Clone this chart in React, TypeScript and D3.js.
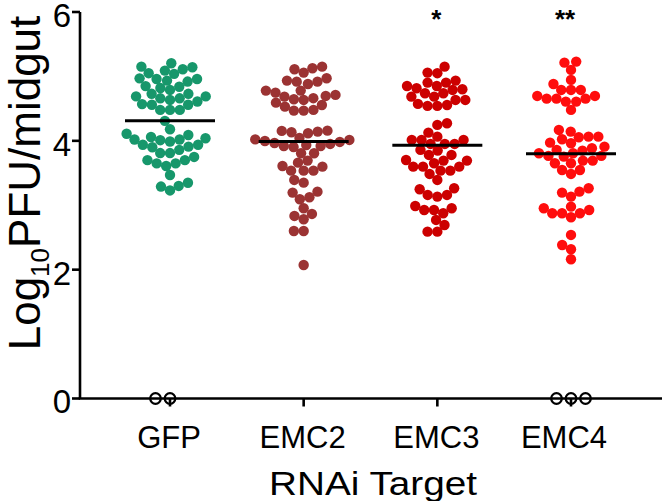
import React from 'react';
import * as d3 from 'd3';

const categories = ['GFP', 'EMC2', 'EMC3', 'EMC4'];
const groupColors = ['#17976b', '#9b3333', '#cc0000', '#ff0d0d'];

const gfpValues = [
  5.205, 5.152, 5.143, 5.112, 5.09, 5.05, 5.04, 4.97, 4.96, 4.96, 4.92, 4.935,
  4.85, 4.84, 4.79, 4.82, 4.73, 4.69, 4.66, 4.73, 4.69, 4.66, 4.635, 4.61,
  4.57, 4.56, 4.56, 4.48, 4.48, 4.48, 4.31, 4.18, 4.11, 4.09, 4.06, 4.02,
  4.01, 4.02, 4.04, 3.94, 3.99, 3.9, 3.86, 3.81, 3.75, 3.81, 3.91, 3.94,
  3.7, 3.65, 3.61, 3.65, 3.7, 3.47, 3.35, 3.29, 3.23, 3.3,
];
const emc2Values = [
  5.152, 5.127, 5.112, 5.059, 4.972, 4.935, 4.919, 4.919, 4.883, 4.78, 4.78,
  4.748, 4.713, 4.697, 4.686, 4.662, 4.646, 4.635, 4.593, 4.557, 4.531, 4.48,
  4.469, 4.469, 4.158, 4.154, 4.143, 4.134, 4.118, 4.045, 4.022, 4.014, 3.998,
  3.983, 3.967, 3.952, 3.936, 3.92, 3.92, 3.905, 3.807, 3.807, 3.693, 3.661,
  3.61, 3.599, 3.537, 3.537, 3.537, 3.393, 3.351, 3.211, 3.196, 3.124, 3.093,
  2.953, 2.865, 2.834, 2.783, 2.601, 2.601, 2.073,
];
const emc3Values = [
  5.152, 5.059, 5.05, 4.935, 4.904, 4.904, 4.852, 4.852, 4.817, 4.801, 4.79,
  4.739, 4.739, 4.686, 4.686, 4.635, 4.635, 4.573, 4.557, 4.542, 4.542, 4.273,
  4.247, 4.127, 4.065, 4.014, 4.014, 4.014, 3.952, 3.952, 3.952, 3.859, 3.848,
  3.781, 3.781, 3.703, 3.693, 3.693, 3.652, 3.599, 3.599, 3.599, 3.537, 3.537,
  3.486, 3.393, 3.264, 3.248, 3.16, 3.16, 3.134, 2.989, 2.953, 2.927, 2.927,
  2.876, 2.772, 2.694, 2.59, 2.59,
];
const emc4Values = [
  5.23, 5.214, 5.101, 4.946, 4.883, 4.79, 4.79, 4.79, 4.697, 4.697, 4.655,
  4.655, 4.655, 4.609, 4.609, 4.48, 4.169, 4.143, 4.065, 4.065, 4.056, 4.025,
  3.972, 3.963, 3.91, 3.885, 3.859, 3.848, 3.807, 3.807, 3.766, 3.766, 3.755,
  3.693, 3.693, 3.652, 3.652, 3.548, 3.548, 3.486, 3.264, 3.211, 3.196, 3.134,
  2.978, 2.953, 2.927, 2.876, 2.876, 2.876, 2.814, 2.539, 2.383, 2.317, 2.161,
];
const zeroCounts = [2, 0, 0, 3];
const groupMeans = [4.31, 3.99, 3.93, 3.8];
const significance = ['', '', '*', '**'];
const yTicks = [0, 2, 4, 6];
const allValues = [gfpValues, emc2Values, emc3Values, emc4Values];

const W = 662;
const H = 501;
const R = 5.2;
const SPACING = 9.8;
const ZERO_SPACING = 14.5;

function swarm(values: number[], y: (v: number) => number, spacing: number) {
  const sorted = values.slice().sort((a, b) => a - b);
  const placed: { x: number; y: number }[] = [];
  return sorted.map((v) => {
    const py = y(v);
    const intervals: [number, number][] = [];
    for (const p of placed) {
      const dy = Math.abs(p.y - py);
      if (dy < spacing) {
        const w = Math.sqrt(spacing * spacing - dy * dy);
        intervals.push([p.x - w, p.x + w]);
      }
    }
    const cands = [0];
    intervals.forEach(([a, b]) => cands.push(a, b));
    cands.sort((a, b) => Math.abs(a) - Math.abs(b) || a - b);
    let px = 0;
    for (const c of cands) {
      if (intervals.every(([a, b]) => c <= a + 1e-6 || c >= b - 1e-6)) {
        px = c;
        break;
      }
    }
    placed.push({ x: px, y: py });
    return { v, dx: px };
  });
}

export default function App() {
  const x = d3.scalePoint<string>().domain(categories).range([170, 571]);
  const y = d3.scaleLinear().domain([0, 6]).range([398.5, 12]);
  const font = "'Liberation Sans', Arial, Helvetica, sans-serif";
  const axisX = 80;
  const axisY = y(0);

  return (
    <svg
      width={W}
      height={H}
      style={{ position: 'absolute', left: 0, top: 0, background: '#fff' }}
      fontFamily={font}
    >
      <rect width={W} height={H} fill="#fff" />
      {categories.map((c, i) => {
        const cx = x(c) as number;
        const pts = swarm(allValues[i], y, SPACING);
        const zeros = d3.range(zeroCounts[i]).map(() => 0);
        const zpts = swarm(zeros, y, ZERO_SPACING);
        return (
          <g key={c}>
            {pts.map((p, j) => (
              <circle key={j} cx={cx + p.dx} cy={y(p.v)} r={R} fill={groupColors[i]} />
            ))}
            <line
              x1={cx - 45}
              x2={cx + 45}
              y1={y(groupMeans[i])}
              y2={y(groupMeans[i])}
              stroke="#000"
              strokeWidth={3}
            />
            {zpts.map((p, j) => (
              <circle
                key={'z' + j}
                cx={cx + p.dx}
                cy={y(p.v)}
                r={5.3}
                fill="none"
                stroke="#000"
                strokeWidth={2.2}
              />
            ))}
            {significance[i] && (
              <text
                x={i === 3 ? cx - 6 : cx - 1}
                y={y(6) + 16}
                textAnchor="middle"
                fontSize={26}
                fontWeight="bold"
              >
                {significance[i]}
              </text>
            )}
          </g>
        );
      })}
      <line x1={axisX} x2={axisX} y1={y(6)} y2={axisY} stroke="#000" strokeWidth={2.6} />
      {yTicks.map((t) => (
        <g key={t}>
          <line x1={axisX - 8} x2={axisX} y1={y(t)} y2={y(t)} stroke="#000" strokeWidth={2.6} />
          <text x={axisX - 9} y={y(t)} dy="0.45em" textAnchor="end" fontSize={33}>
            {t}
          </text>
        </g>
      ))}
      <line x1={axisX - 1.3} x2={W} y1={axisY} y2={axisY} stroke="#000" strokeWidth={2.6} />
      {categories.map((c, i) => (
        <g key={c}>
          <line
            x1={x(c) as number}
            x2={x(c) as number}
            y1={axisY}
            y2={axisY + 8}
            stroke="#000"
            strokeWidth={2.6}
          />
          <text
            x={(x(c) as number) - (i === 3 ? 7 : 1)}
            y={448}
            textAnchor="middle"
            fontSize={31}
          >
            {c}
          </text>
        </g>
      ))}
      <text
        x={373}
        y={495}
        textAnchor="middle"
        fontSize={34}
        textLength={208}
        lengthAdjust="spacingAndGlyphs"
      >
        RNAi Target
      </text>
      <text
        transform={`translate(40,${183}) rotate(-90)`}
        textAnchor="middle"
        fontSize={44}
      >
        Log
        <tspan fontSize={26} dy={9}>
          10
        </tspan>
        <tspan dy={-9}>PFU/midgut</tspan>
      </text>
    </svg>
  );
}
